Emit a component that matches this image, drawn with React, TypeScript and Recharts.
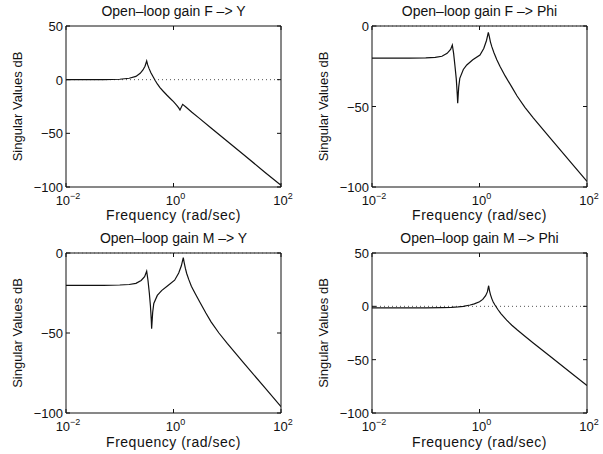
import { LineChart, Line, XAxis, YAxis, ReferenceArea, ReferenceLine } from "recharts";

// x axis: log frequency, ticks 10^-2 .. 10^2
const xTicks = [0.01, 1, 100];
const xTickExp = ["\u22122", "0", "2"];

// F -> Y
const fyFreq = [0.01, 0.02, 0.05, 0.1, 0.15, 0.2, 0.24, 0.27, 0.295, 0.317, 0.33, 0.35, 0.38, 0.42, 0.46, 0.5, 0.56, 0.65, 0.75, 0.87, 1.0, 1.15, 1.25, 1.32, 1.48, 1.7, 2.2, 3, 5, 10, 20, 50, 100];
const fyGain = [0, 0, 0, 0.4, 1.3, 3, 5.9, 9, 12.5, 17.4, 14, 10.5, 6.5, 2.5, -1, -4, -7.5, -11, -14.3, -17.5, -20.5, -24, -26.3, -28.3, -23, -25.5, -30.3, -35.8, -45, -57.3, -69.7, -86.2, -98.5];

// F -> Phi
const fpFreq = [0.01, 0.05, 0.1, 0.15, 0.2, 0.25, 0.29, 0.312, 0.33, 0.35, 0.37, 0.385, 0.393, 0.41, 0.43, 0.5, 0.58, 0.75, 1.02, 1.2, 1.35, 1.46, 1.52, 1.6, 1.7, 1.85, 2.1, 2.4, 3, 4, 5, 7, 10, 20, 50, 100];
const fpGain = [-20, -20, -19.8, -19.5, -18.8, -17, -14.5, -11.8, -17, -25, -33, -42, -48, -38, -32.5, -27, -24.2, -21, -18, -14, -9, -3.9, -6.5, -10, -13, -16.5, -21, -25, -31, -38, -43.5, -50.5, -57, -69, -84.7, -96.5];

// M -> Y
const myFreq = [0.01, 0.05, 0.1, 0.15, 0.2, 0.25, 0.29, 0.317, 0.335, 0.355, 0.372, 0.385, 0.392, 0.41, 0.43, 0.5, 0.6, 0.78, 1.05, 1.25, 1.4, 1.52, 1.58, 1.66, 1.76, 1.92, 2.15, 2.5, 3.1, 4, 5, 7, 10, 20, 50, 100];
const myGain = [-20.2, -20.2, -20, -19.7, -19, -17.2, -14.8, -11.4, -17, -25, -33, -41, -47.3, -37, -31.5, -26.5, -23.5, -20.5, -17, -12.5, -8, -2.9, -6, -9.5, -12.8, -16.5, -20.8, -25, -30.8, -37.5, -43, -50, -56.5, -68.5, -84.2, -96];

// M -> Phi
const mpFreq = [0.01, 0.05, 0.1, 0.2, 0.3, 0.4, 0.5, 0.67, 0.8, 1.0, 1.15, 1.3, 1.4, 1.48, 1.53, 1.6, 1.7, 1.8, 1.94, 2.2, 2.5, 3.2, 4, 5, 7, 10, 20, 50, 100];
const mpGain = [-1.5, -1.5, -1.5, -1.3, -1, -0.5, 0, 1.25, 2.3, 4.3, 6.5, 10, 13.5, 19.3, 15, 11, 7, 4, 1.25, -3, -6.8, -13, -17.7, -22, -28, -34.3, -46.3, -62.2, -74.2];

const wideTicks = [-100, -50, 0, 50];
const narrowTicks = [-100, -50, 0];

const FONT = "'Liberation Sans', Arial, Helvetica, sans-serif";
const INK = "#111";

const zip = (f: number[], g: number[]) => f.map((v, i) => ({ f: v, g: g[i] }));
const fmtY = (v: number) => (v < 0 ? "\u2212" + Math.abs(v) : String(v));

type PanelProps = {
  title: string;
  freq: number[];
  gain: number[];
  yTicks: number[];
  left: number;
  top: number;
  width: number;
  plot: { l: number; t: number; r: number; b: number };
};

function Panel({ title, freq, gain, yTicks, left, top, width, plot }: PanelProps) {
  const height = 227;
  const yAxisW = 40;
  const xAxisH = 30;
  const pw = plot.r - plot.l;
  const ph = plot.b - plot.t;
  const yMin = yTicks[0];
  const yMax = yTicks[yTicks.length - 1];
  const data = zip(freq, gain);

  const XTick = (p: any) => {
    const i = xTicks.indexOf(p.payload.value);
    return (
      <g>
        <line x1={p.x} y1={p.y} x2={p.x} y2={p.y - 4} stroke={INK} />
        <line x1={p.x} y1={p.y - ph} x2={p.x} y2={p.y - ph + 4} stroke={INK} />
        <text x={p.x + 2} y={p.y + 18} textAnchor="middle" fontSize={13} fill={INK} fontFamily={FONT}>
          10
          <tspan dy={-6} fontSize={9}>{xTickExp[i]}</tspan>
        </text>
      </g>
    );
  };

  const YTick = (p: any) => (
    <g>
      <line x1={p.x} y1={p.y} x2={p.x + 4} y2={p.y} stroke={INK} />
      <line x1={p.x + pw - 4} y1={p.y} x2={p.x + pw} y2={p.y} stroke={INK} />
      <text x={p.x - 3} y={p.y + 5} textAnchor="end" fontSize={13} fill={INK} fontFamily={FONT}>
        {fmtY(p.payload.value)}
      </text>
    </g>
  );

  const cx = plot.l - left + pw / 2;
  const ly = plot.t - top + ph / 2;
  const lx = plot.l - left - 44;

  return (
    <div style={{ position: "absolute", left, top, width, height }}>
      <LineChart
        width={width}
        height={height}
        data={data}
        margin={{
          left: plot.l - left - yAxisW,
          top: plot.t - top,
          right: left + width - plot.r,
          bottom: top + height - plot.b - xAxisH,
        }}
      >
        <XAxis
          dataKey="f"
          type="number"
          scale="log"
          domain={[0.01, 100]}
          ticks={xTicks}
          allowDataOverflow
          height={xAxisH}
          axisLine={false}
          tickLine={false}
          tickSize={0}
          tickMargin={0}
          tick={XTick}
          interval={0}
        />
        <YAxis
          type="number"
          domain={[yMin, yMax]}
          ticks={yTicks}
          allowDataOverflow
          width={yAxisW}
          axisLine={false}
          tickLine={false}
          tickSize={0}
          tickMargin={0}
          tick={YTick}
          interval={0}
        />
        <ReferenceLine y={0} stroke="#555" strokeDasharray="1 3" />
        <ReferenceArea x1={0.01} x2={100} y1={yMin} y2={yMax} fill="none" stroke={INK} strokeWidth={1} />
        <Line
          dataKey="g"
          type="linear"
          stroke={INK}
          strokeWidth={1.2}
          dot={false}
          isAnimationActive={false}
        />
      </LineChart>
      <svg
        width={width}
        height={height}
        style={{ position: "absolute", left: 0, top: 0, pointerEvents: "none" }}
        fontFamily={FONT}
        fill={INK}
      >
        <text x={cx} y={16} textAnchor="middle" fontSize={14}>
          {title}
        </text>
        <text x={cx} y={220} textAnchor="middle" fontSize={14} letterSpacing={0.5}>
          Frequency (rad/sec)
        </text>
        <text x={lx} y={ly} textAnchor="middle" fontSize={13} transform={`rotate(-90 ${lx} ${ly})`}>
          Singular Values dB
        </text>
      </svg>
    </div>
  );
}

export default function App() {
  return (
    <div
      style={{
        position: "absolute",
        left: 0,
        top: 0,
        width: 603,
        height: 454,
        background: "#fff",
        overflow: "hidden",
      }}
    >
      <Panel
        title={"Open\u2013loop gain F \u2013> Y"}
        freq={fyFreq}
        gain={fyGain}
        yTicks={wideTicks}
        left={0}
        top={0}
        width={300}
        plot={{ l: 66, t: 26, r: 281, b: 187 }}
      />
      <Panel
        title={"Open\u2013loop gain F \u2013> Phi"}
        freq={fpFreq}
        gain={fpGain}
        yTicks={narrowTicks}
        left={300}
        top={0}
        width={303}
        plot={{ l: 372, t: 26, r: 587, b: 187 }}
      />
      <Panel
        title={"Open\u2013loop gain M \u2013> Y"}
        freq={myFreq}
        gain={myGain}
        yTicks={narrowTicks}
        left={0}
        top={227}
        width={300}
        plot={{ l: 66, t: 253, r: 281, b: 413 }}
      />
      <Panel
        title={"Open\u2013loop gain M \u2013> Phi"}
        freq={mpFreq}
        gain={mpGain}
        yTicks={wideTicks}
        left={300}
        top={227}
        width={303}
        plot={{ l: 372, t: 253, r: 587, b: 413 }}
      />
    </div>
  );
}
